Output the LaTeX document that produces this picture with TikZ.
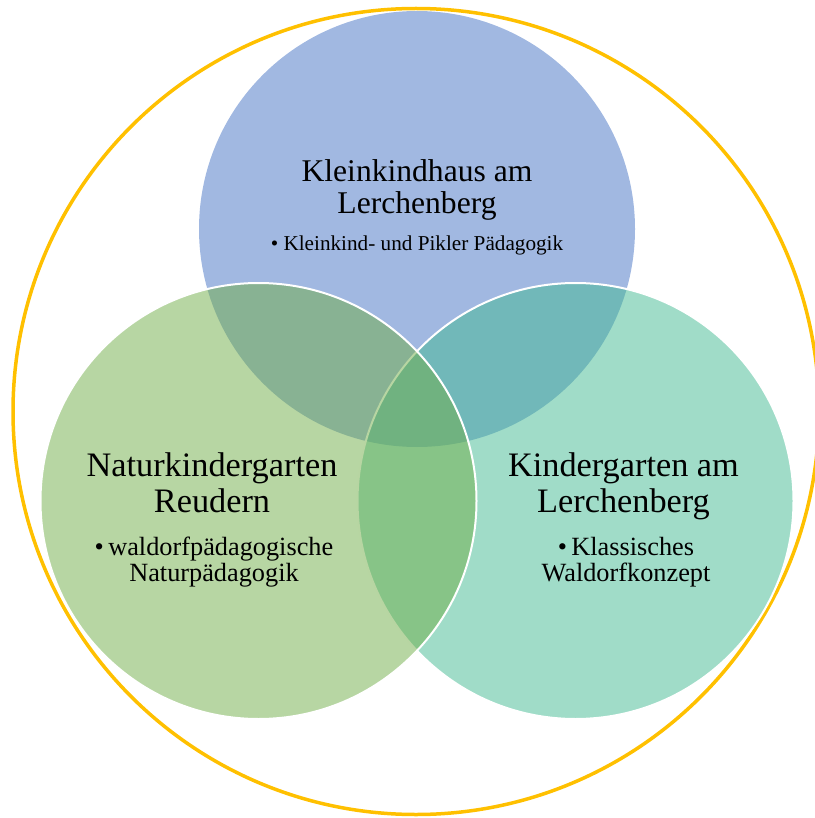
\documentclass[tikz,border=0pt]{standalone}
\usepackage{fontspec}
\setmainfont{Liberation Serif}
\definecolor{hausblau}{RGB}{68,114,196}
\definecolor{naturgruen}{RGB}{112,173,71}
\definecolor{gartentuerkis}{RGB}{65,185,145}
\definecolor{ringgold}{RGB}{255,192,0}
\tikzset{
  kreis/.style={circle, minimum size=436pt, inner sep=0pt, fill opacity=0.5},
  titel/.style={align=center, anchor=base, font=\fontsize{34.3}{36}\selectfont},
  punkt/.style={align=center, anchor=base, font=\fontsize{26.3}{26.7}\selectfont}
}

\begin{document}
\begin{tikzpicture}[x=1pt,y=-1pt]
  \useasboundingbox (0,0) rectangle (814,818);
  % outer ring
  \node[circle, draw=ringgold, line width=3.5pt, minimum size=806pt, inner sep=0pt] (ring) at (416,411.5) {};
  % three circles
  \node[kreis, fill=hausblau] (haus) at (417,229) {};
  \node[kreis, fill=gartentuerkis, draw=white, line width=2pt] (garten) at (575.5,501) {};
  \node[kreis, fill=naturgruen, draw=white, line width=2pt] (natur) at (258.5,501) {};
  % texts (placed at the baseline of their last line)
  \node[titel, font=\fontsize{31.6}{32.3}\selectfont] (hausname) at (417,214) {Kleinkindhaus am\\Lerchenberg};
  \node[punkt, font=\fontsize{21.2}{22}\selectfont] (hauspunkt) at (417,251) {• Kleinkind- und Pikler Pädagogik};
  \node[titel] (naturname) at (212,512.7) {Naturkindergarten\\Reudern};
  \node[punkt] (naturpunkt) at (214,581.7) {•\,waldorfpädagogische\\Naturpädagogik};
  \node[titel] (gartenname) at (623.5,512.7) {Kindergarten am\\Lerchenberg};
  \node[punkt] (gartenpunkt) at (626,581.7) {•\,Klassisches\\Waldorfkonzept};
\end{tikzpicture}
\end{document}
